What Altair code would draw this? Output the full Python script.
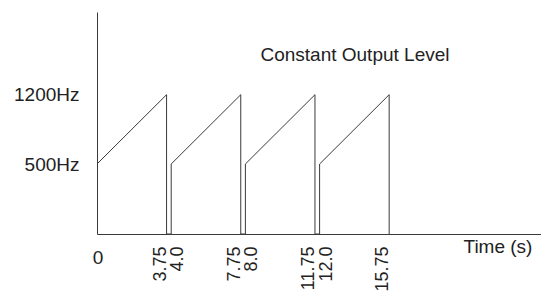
import altair as alt
import pandas as pd

# values
sweep_starts = [0, 4.0, 8.0, 12.0]
sweep_ends = [3.75, 7.75, 11.75, 15.75]
f_low = 500
f_high = 1200
tick_values = [3.75, 4.0, 7.75, 8.0, 11.75, 12.0, 15.75]
tick_labels = ["3.75", "4.0", "7.75", "8.0", "11.75", "12.0", "15.75"]
freq_ticks = [500, 1200]
annotation = "Constant Output Level"
annot_pos = [8.81, 1545]

# build the sawtooth path
xs, ys = [], []
for i, (s, e) in enumerate(zip(sweep_starts, sweep_ends)):
    if i > 0:
        xs.append(s); ys.append(0)
    xs.append(s); ys.append(f_low)
    xs.append(e); ys.append(f_high)
    xs.append(e); ys.append(0)
path = pd.DataFrame({"t": xs, "f": ys, "o": list(range(len(xs)))})

FONT = "Liberation Sans"
INK = "#222222"
LINE = "#3a3a3a"

W, H = 444, 222
xscale = alt.Scale(domain=[0, W / 18.55], nice=False, zero=False)
yscale = alt.Scale(domain=[0, 500, 1200, 2035], range=[H, 152, 82.7, 0], nice=False, zero=False)

label_map = "{" + ",".join(f"'{v:.2f}':'{l}'" for v, l in zip(tick_values, tick_labels)) + "}"

line = alt.Chart(path).mark_line(color=LINE, strokeWidth=1, clip=False).encode(
    x=alt.X("t:Q", scale=xscale, axis=alt.Axis(
        values=tick_values,
        labelExpr=f"{label_map}[format(datum.value, '.2f')]",
        labelAngle=-90,
        labelPadding=12,
        labelOverlap=False,
        labelFlush=False,
        labelBound=False,
        labelFont=FONT, labelFontSize=18, labelColor=INK,
        labelOffset={"condition": {"test": "datum.value % 1 != 0", "value": -6.5}, "value": 6.5},
        ticks=False, grid=False,
        domainColor=LINE, domainWidth=1,
        title="Time (s)", titleFont=FONT, titleFontSize=19, titleFontWeight="normal",
        titleColor=INK, titleAlign="left", titleX=366, titleY=18,
        titleBaseline="alphabetic", titleAnchor="start",
    )),
    y=alt.Y("f:Q", scale=yscale, axis=alt.Axis(
        values=freq_ticks,
        labelExpr="datum.value + 'Hz'",
        labelPadding=18,
        labelOverlap=False, labelFlush=False, labelBound=False,
        labelFont=FONT, labelFontSize=19, labelColor=INK,
        ticks=False, grid=False,
        domainColor=LINE, domainWidth=1,
        title=None,
    )),
    order="o:Q",
)

zero_df = pd.DataFrame({"t": [0], "f": [0], "txt": ["0"]})
zero_lbl = alt.Chart(zero_df).mark_text(
    font=FONT, fontSize=19, color=INK, align="center", baseline="alphabetic", dy=30, dx=1
).encode(
    x=alt.X("t:Q", scale=xscale),
    y=alt.Y("f:Q", scale=yscale),
    text="txt:N",
)

ann_df = pd.DataFrame({"t": [annot_pos[0]], "f": [annot_pos[1]], "txt": [annotation]})
ann = alt.Chart(ann_df).mark_text(
    font=FONT, fontSize=19, color=INK, align="left", baseline="alphabetic"
).encode(
    x=alt.X("t:Q", scale=xscale),
    y=alt.Y("f:Q", scale=yscale),
    text="txt:N",
)

chart = alt.layer(line, zero_lbl, ann).properties(
    width=W, height=H,
    autosize=alt.AutoSizeParams(type="none"),
    padding={"left": 89, "top": 4, "right": 0, "bottom": 59},
    background="white",
).configure_view(stroke=None)

chart.save("out.html", embed_options={"renderer": "svg", "actions": False})
